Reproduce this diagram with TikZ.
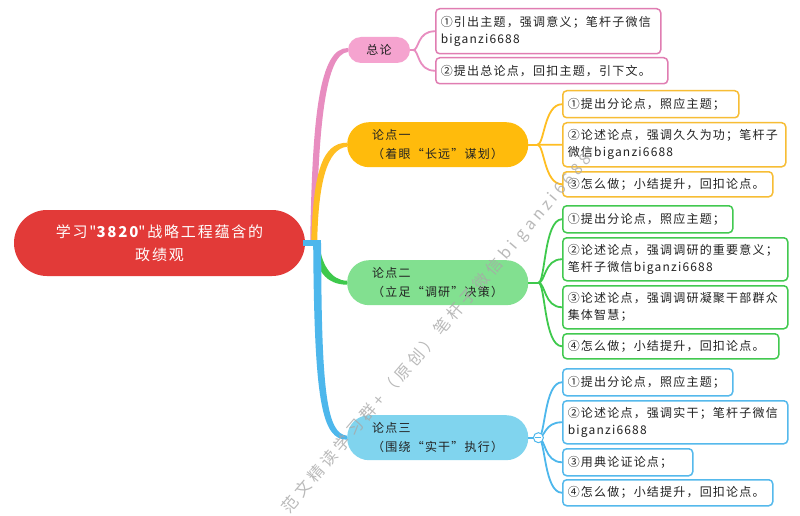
\documentclass[tikz,border=0pt]{standalone}
\usepackage{fontspec}
\setmainfont{Noto Sans CJK SC}
\newfontfamily\leaffont{Noto Sans CJK SC}[LetterSpace=10]
\newfontfamily\rootfont{Noto Sans CJK SC}[LetterSpace=12]
\newfontfamily\wmfont{Noto Sans CJK SC}[LetterSpace=25]
\usetikzlibrary{calc}
\definecolor{rootred}{HTML}{E23A38}
\definecolor{pinkfill}{HTML}{F5A3CF}
\definecolor{pinkline}{HTML}{E88DC0}
\definecolor{pinkbox}{HTML}{E07DB2}
\definecolor{orfill}{HTML}{FFBB0C}
\definecolor{orline}{HTML}{FFBE22}
\definecolor{orbox}{HTML}{F7BD35}
\definecolor{grfill}{HTML}{82E090}
\definecolor{grline}{HTML}{3EC94C}
\definecolor{grbox}{HTML}{42C950}
\definecolor{blfill}{HTML}{80D4EE}
\definecolor{blline}{HTML}{4DB7EC}
\definecolor{blbox}{HTML}{55B9EC}
\definecolor{txt}{HTML}{222222}
\definecolor{wmgray}{HTML}{A8A8A8}
\tikzset{
  leafbox/.style={anchor=north west, rounded corners=4pt, fill=white, line width=1.5pt,
    inner xsep=5pt, inner ysep=0pt, align=left, text=txt,
    font=\leaffont\fontsize{12}{17}\selectfont},
  mainbox/.style={anchor=north west, rounded corners=22pt, minimum width=181pt, minimum height=45pt,
    inner xsep=25pt, inner ysep=0pt, text width=131pt, align=left, text=txt,
    font=\leaffont\fontsize{12}{19}\selectfont},
  conn/.style={line width=1.8pt},
}
\newcommand\leaf[7]{%
  \pgfmathsetmacro\lw{#4-10}%
  \node[leafbox, draw=#6, minimum width=#4pt, minimum height=#5pt, text width=\lw pt] (#1) at (#2,#3) {#7};%
}
\begin{document}
\begin{tikzpicture}[x=1pt,y=-1pt]
\useasboundingbox (0,0) rectangle (800,516);
\fill[white] (0,0) rectangle (800,516);

% root
\node[fill=rootred, rounded corners=33pt, minimum width=291pt, minimum height=66pt, inner sep=0pt,
  align=center, text=white, font=\rootfont\fontsize{15}{23}\selectfont] (root) at (159.5,243)
  {学习"{\bfseries 3820}"战略工程蕴含的\\政绩观};

% main topics
\node[fill=pinkfill, rounded corners=13pt, minimum width=62pt, minimum height=26pt, inner sep=0pt,
  text=txt, font=\leaffont\fontsize{12}{15}\selectfont] (zl) at (379,50) {总论};
\node[mainbox, fill=orfill] (d1) at (347,122) {论点一\\（着眼“长远”谋划）};
\node[mainbox, fill=grfill] (d2) at (347,260) {论点二\\（立足“调研”决策）};
\node[mainbox, fill=blfill] (d3) at (347,415) {论点三\\（围绕“实干”执行）};

% leaves
\leaf{p1}{435}{8}{225}{45}{pinkbox}{①引出主题，强调意义；笔杆子微信\\biganzi6688}
\leaf{p2}{435}{57}{232}{26}{pinkbox}{②提出总论点，回扣主题，引下文。}
\leaf{o1}{562}{90}{176}{27}{orbox}{①提出分论点，照应主题；}
\leaf{o2}{562}{122}{223}{44}{orbox}{②论述论点，强调久久为功；笔杆子\\微信biganzi6688}
\leaf{o3}{562}{171}{210}{25}{orbox}{③怎么做；小结提升，回扣论点。}
\leaf{g1}{562}{205}{170}{27}{grbox}{①提出分论点，照应主题；}
\leaf{g2}{562}{237}{225}{43}{grbox}{②论述论点，强调调研的重要意义；\\笔杆子微信biganzi6688}
\leaf{g3}{562}{285}{225}{43}{grbox}{③论述论点，强调调研凝聚干部群众\\集体智慧；}
\leaf{g4}{562}{333}{216}{25}{grbox}{④怎么做；小结提升，回扣论点。}
\leaf{b1}{562}{368}{170}{27}{blbox}{①提出分论点，照应主题；}
\leaf{b2}{562}{400}{225}{43}{blbox}{②论述论点，强调实干；笔杆子微信\\biganzi6688}
\leaf{b3}{562}{448}{130}{27}{blbox}{③用典论证论点；}
\leaf{b4}{562}{479}{210}{26}{blbox}{④怎么做；小结提升，回扣论点。}

% trunk branches (tapered)
\coordinate (hub) at ($(root.east)+(8,0)$);
\fill[pinkline] ($(hub)+(-3,0)$) .. controls ($(hub)+(-1,-130)$) and ($(zl.west)+(-28,-2)$) .. ($(zl.west)+(0,-2)$)
  -- ($(zl.west)+(0,2)$) .. controls ($(zl.west)+(-22,4)$) and ($(hub)+(5,-120)$) .. ($(hub)+(3,0)$) -- cycle;
\fill[orline] ($(hub)+(-2,0)$) .. controls ($(hub)+(0,-70)$) and ($(d1.west)+(-25,-2)$) .. ($(d1.west)+(0,-2)$)
  -- ($(d1.west)+(0,2)$) .. controls ($(d1.west)+(-20,4)$) and ($(hub)+(5,-60)$) .. ($(hub)+(4,0)$) -- cycle;
\fill[grline] ($(hub)+(0,-2)$) .. controls ($(hub)+(1,28)$) and ($(d2.west)+(-20,2)$) .. ($(d2.west)+(0,2)$)
  -- ($(d2.west)+(0,-2)$) .. controls ($(d2.west)+(-16,-2)$) and ($(hub)+(7,20)$) .. ($(hub)+(6,-2)$) -- cycle;
\fill[blline] ($(hub)+(0,0)$) .. controls ($(hub)+(1,160)$) and ($(d3.west)+(-25,2)$) .. ($(d3.west)+(0,2)$)
  -- ($(d3.west)+(0,-2)$) .. controls ($(d3.west)+(-20,-4)$) and ($(hub)+(8,150)$) .. ($(hub)+(8,0)$) -- cycle;
\fill[blline] ($(root.east)+(-2,-3)$) rectangle ($(hub)+(8,3)$);

% pink connectors
\coordinate (ps) at ($(zl.east)+(3,0)$);
\draw[conn, pinkline] (zl.east) -- (ps);
\draw[conn, pinkline] (ps) .. controls +(6,0) and +(-18,0) .. (p1.west);
\draw[conn, pinkline] (ps) .. controls +(6,0) and +(-18,0) .. (p2.west);

% orange connectors
\coordinate (os) at ($(d1.east)+(9,0)$);
\draw[conn, orline] (d1.east) -- (os);
\foreach \t in {o1,o2,o3} \draw[conn, orline] (os) .. controls +(7,0) and +(-18,0) .. (\t.west);

% green connectors
\coordinate (gs) at ($(d2.east)+(10,0)$);
\draw[conn, grline] (d2.east) -- (gs);
\foreach \t in {g1,g2,g3,g4} \draw[conn, grline] (gs) .. controls +(7,0) and +(-18,0) .. (\t.west);

% blue connectors
\coordinate (bs) at ($(d3.east)+(10,0)$);
\draw[conn, blline] (d3.east) -- (bs);
\foreach \t in {b1,b2,b3,b4} \draw[conn, blline] (bs) .. controls +(7,0) and +(-18,0) .. (\t.west);
\node[circle, draw=blline, fill=white, line width=1pt, minimum size=10pt, inner sep=0pt] (bc) at (bs) {};
\draw[blline, line width=1pt] ($(bc.center)+(-3,0)$) -- ($(bc.center)+(3,0)$);

% watermark
\node[rotate=49.5, anchor=west, inner sep=0pt, text=wmgray, opacity=0.8,
  font=\wmfont\fontsize{16}{16}\selectfont] (wm) at (286,511) {范文精读学习群+（原创）笔杆子微信bi ganzi6688};
\end{tikzpicture}
\end{document}
